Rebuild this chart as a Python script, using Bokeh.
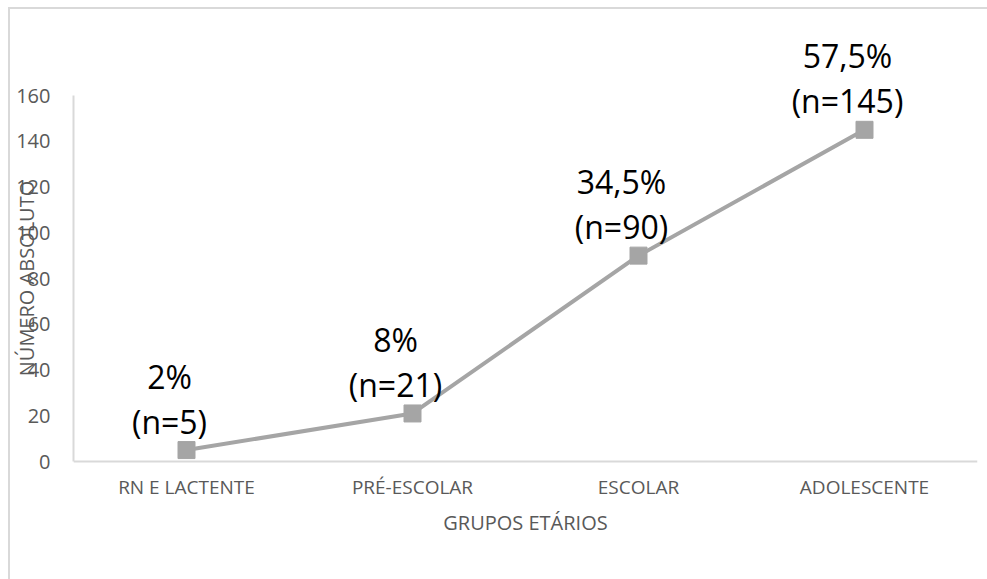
from bokeh.plotting import figure
from bokeh.models import ColumnDataSource, FixedTicker, FactorRange, Range1d
from bokeh.embed import file_html
from bokeh.resources import INLINE
from bokeh.core.properties import value

categories = ["RN E LACTENTE", "PRÉ-ESCOLAR", "ESCOLAR", "ADOLESCENTE"]
counts = [5, 21, 90, 145]
percent_labels = ["2%", "8%", "34,5%", "57,5%"]
n_labels = ["(n=5)", "(n=21)", "(n=90)", "(n=145)"]
y_ticks = [0, 20, 40, 60, 80, 100, 120, 140, 160]
x_title = "GRUPOS ETÁRIOS"
y_title = "NÚMERO ABSOLUTO"

src = ColumnDataSource(dict(x=categories, y=counts, pct=percent_labels, n=n_labels))

FONT = "Open Sans"
GRAY_TXT = "#595959"
AXIS_C = "#d9d9d9"
SERIES_C = "#a5a5a5"

# layout in pixels
AXIS_H = 366      # pixel height of the 0..160 value axis
PAD_TOP = 75      # frame space above the value 160
PAD_BOT = 75      # frame space below the value 0 (keeps the y title centred on the axis)
XTITLE_PX = 61    # distance of the x title below the x axis
px_per_unit = AXIS_H / (y_ticks[-1] - y_ticks[0])
y_start = y_ticks[0] - PAD_BOT / px_per_unit
y_end = y_ticks[-1] + PAD_TOP / px_per_unit

p = figure(width=979, height=572, x_range=FactorRange(factors=categories, range_padding=0),
           y_range=Range1d(y_start, y_end), output_backend="svg", toolbar_location=None,
           min_border_left=63, min_border_right=12, min_border_top=11, min_border_bottom=45)
p.margin = (7, 0, 0, 8)
p.styles = {"border-left": "2px solid #d9d9d9", "border-top": "2px solid #d9d9d9"}
p.outline_line_color = None
p.xgrid.visible = False
p.ygrid.visible = False
p.background_fill_color = "white"
p.border_fill_color = "white"

p.line("x", "y", source=src, line_color=SERIES_C, line_width=4)
p.scatter("x", "y", source=src, marker="square", size=17, fill_color=SERIES_C, line_color=SERIES_C)

p.text("x", "y", text="n", source=src, text_font=value(FONT), text_font_size="32px",
       text_color="#000000", text_align="center", text_baseline="middle", x_offset=-17, y_offset=-29)
p.text("x", "y", text="pct", source=src, text_font=value(FONT), text_font_size="32px",
       text_color="#000000", text_align="center", text_baseline="middle", x_offset=-17, y_offset=-74)

# x axis title, centred under the category axis
p.text(x=[len(categories) / 2], y=[y_ticks[0] - XTITLE_PX / px_per_unit], text=[x_title],
       text_font=value(FONT), text_font_size="20px", text_color=GRAY_TXT,
       text_align="center", text_baseline="middle")

ya = p.yaxis[0]
ya.bounds = (y_ticks[0], y_ticks[-1])
ya.ticker = FixedTicker(ticks=y_ticks)
ya.axis_line_color = AXIS_C
ya.axis_line_width = 2
ya.major_tick_line_color = None
ya.minor_tick_line_color = None
ya.major_tick_out = 0
ya.major_tick_in = 0
ya.major_label_standoff = 23
ya.major_label_text_font = FONT
ya.major_label_text_font_size = "20px"
ya.major_label_text_color = GRAY_TXT
ya.axis_label = y_title
ya.axis_label_text_font = FONT
ya.axis_label_text_font_size = "20px"
ya.axis_label_text_font_style = "normal"
ya.axis_label_text_color = GRAY_TXT
ya.axis_label_standoff = -27

xa = p.xaxis[0]
xa.fixed_location = y_ticks[0]
xa.axis_line_color = AXIS_C
xa.axis_line_width = 2
xa.major_tick_line_color = None
xa.minor_tick_line_color = None
xa.major_tick_out = 0
xa.major_tick_in = 0
xa.major_label_standoff = 12
xa.major_label_text_font = FONT
xa.major_label_text_font_size = "19px"
xa.major_label_text_color = GRAY_TXT

open("out.html", "w").write(file_html(p, INLINE))
